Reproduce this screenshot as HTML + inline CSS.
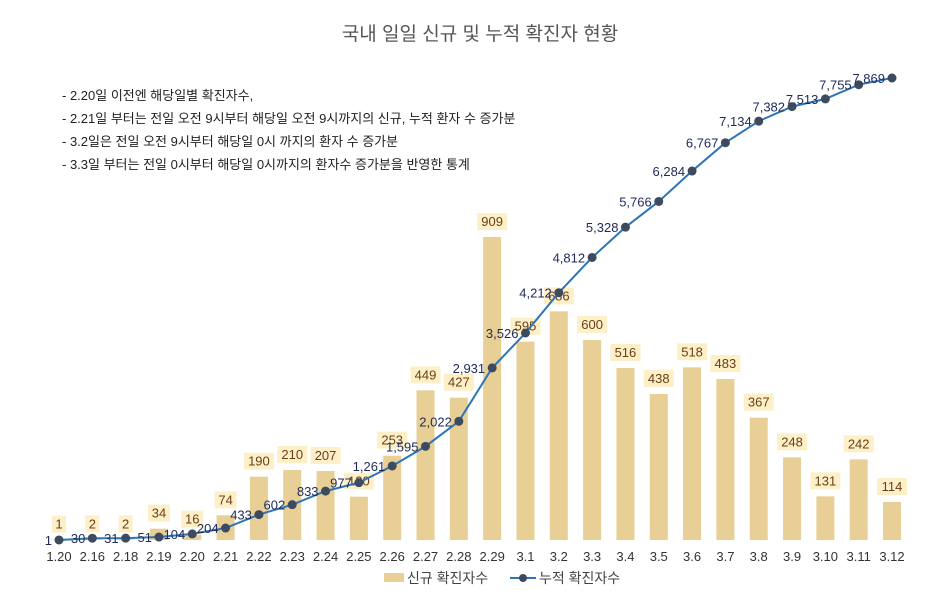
<!DOCTYPE html>
<html><head><meta charset="utf-8"><style>
body{margin:0;background:#fff;}
svg text{font-family:"Liberation Sans","Noto Sans CJK KR",sans-serif;}
</style></head><body>
<svg id="chart" width="942" height="601" xmlns="http://www.w3.org/2000/svg">
<text x="480" y="40" text-anchor="middle" font-size="19" fill="#555">국내 일일 신규 및 누적 확진자 현황</text>
<g font-size="13" fill="#222">
<text x="62" y="100">- 2.20일 이전엔 해당일별 확진자수,</text>
<text x="62" y="123">- 2.21일 부터는 전일 오전 9시부터 해당일 오전 9시까지의 신규, 누적 환자 수 증가분</text>
<text x="62" y="146">- 3.2일은 전일 오전 9시부터 해당일 0시 까지의 환자 수 증가분</text>
<text x="62" y="169">- 3.3일 부터는 전일 0시부터 해당일 0시까지의 환자수 증가분을 반영한 통계</text>
</g>
<g id="bars"></g><g id="line"></g><g id="xlabels"></g>
<g>
<rect x="384" y="573" width="20" height="9" fill="#e8cf95"/>
<text x="407" y="583" font-size="14" fill="#444">신규 확진자수</text>
<line x1="510" y1="578" x2="536" y2="578" stroke="#2e75b6" stroke-width="2"/>
<circle cx="523" cy="578" r="4" fill="#3d4a60"/>
<text x="539" y="583" font-size="14" fill="#444">누적 확진자수</text>
</g>
</svg>
<script>
const categories=["1.20","2.16","2.18","2.19","2.20","2.21","2.22","2.23","2.24","2.25","2.26","2.27","2.28","2.29","3.1","3.2","3.3","3.4","3.5","3.6","3.7","3.8","3.9","3.10","3.11","3.12"];
const newCases=[1,2,2,34,16,74,190,210,207,130,253,449,427,909,595,686,600,516,438,518,483,367,248,131,242,114];
const cumCases=[1,30,31,51,104,204,433,602,833,977,1261,1595,2022,2931,3526,4212,4812,5328,5766,6284,6767,7134,7382,7513,7755,7869];
const NS="http://www.w3.org/2000/svg";
const x0=59,step=(892-59)/25,base=540;
function xs(i){return x0+i*step;}
function yBar(v){return base-v*0.3333;}
function yLine(v){return base-v*(462/7869);}
function mk(t,a,p){const e=document.createElementNS(NS,t);for(const k in a)e.setAttribute(k,a[k]);p.appendChild(e);return e;}
const fmt=v=>v.toLocaleString('en-US');
const bars=document.getElementById('bars'),line=document.getElementById('line'),xl=document.getElementById('xlabels');
newCases.forEach((v,i)=>{
  const x=xs(i),y=yBar(v);
  const r=mk('rect',{x:x-9,y:y,width:18,height:base-y,fill:'#e8cf95'},bars);
  
  
  const s=String(v),w=s.length*8+6;
  const bg=mk('rect',{x:x-w/2,y:y-24,width:w,height:17,fill:'#fdf0c8'},bars);
  
  
  const t=mk('text',{x:x,y:y-11,'text-anchor':'middle','font-size':13,fill:'#6b3e14'},bars);
  t.textContent=s;
  
  
});
let d='';
cumCases.forEach((v,i)=>{d+=(i?'L':'M')+xs(i)+','+yLine(v);});
const p=mk('path',{d:d,fill:'none',stroke:'#2e75b6','stroke-width':2},line);


cumCases.forEach((v,i)=>{
  const x=xs(i),y=yLine(v);
  const c=mk('circle',{cx:x,cy:y,r:4.5,fill:'#3d4a60'},line);
  
  
  const t=mk('text',{x:x-7,y:y+5,'text-anchor':'end','font-size':13,fill:'#1f2a5a'},line);
  t.textContent=fmt(v);
  
  
});
categories.forEach((c,i)=>{
  const t=mk('text',{x:xs(i),y:561,'text-anchor':'middle','font-size':13,fill:'#333'},xl);
  t.textContent=c;
  
  
});
</script>
</body></html>
